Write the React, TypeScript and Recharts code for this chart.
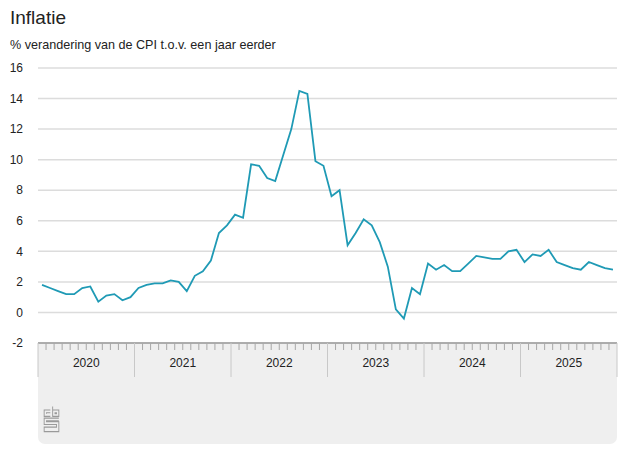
import { CartesianGrid, Line, LineChart, XAxis, YAxis } from "recharts";

// jaarlijkse CPI-mutatie per maand
const years = ["2020", "2021", "2022", "2023", "2024", "2025"];
const cpi2020 = [1.8, 1.6, 1.4, 1.2, 1.2, 1.6, 1.7, 0.7, 1.1, 1.2, 0.8, 1.0];
const cpi2021 = [1.6, 1.8, 1.9, 1.9, 2.1, 2.0, 1.4, 2.4, 2.7, 3.4, 5.2, 5.7];
const cpi2022 = [6.4, 6.2, 9.7, 9.6, 8.8, 8.6, 10.3, 12.0, 14.5, 14.3, 9.9, 9.6];
const cpi2023 = [7.6, 8.0, 4.4, 5.2, 6.1, 5.7, 4.6, 3.0, 0.2, -0.4, 1.6, 1.2];
const cpi2024 = [3.2, 2.8, 3.1, 2.7, 2.7, 3.2, 3.7, 3.6, 3.5, 3.5, 4.0, 4.1];
const cpi2025 = [3.3, 3.8, 3.7, 4.1, 3.3, 3.1, 2.9, 2.8, 3.3, 3.1, 2.9, 2.8];
const yTicks = [-2, 0, 2, 4, 6, 8, 10, 12, 14, 16];

const perYear = [cpi2020, cpi2021, cpi2022, cpi2023, cpi2024, cpi2025];
const data = perYear.flatMap((vals, yi) =>
  vals.map((v, m) => ({ t: yi * 12 + m + 0.5, v }))
);
const monthTicks = Array.from({ length: years.length * 12 + 1 }, (_, i) => i);

const FONT = '"Liberation Sans", Arial, sans-serif';

function MonthTick(props: any) {
  const { x, y, payload } = props;
  const i = payload.value as number;
  const isYear = i % 12 === 0;
  const isMid = i % 12 === 6;
  return (
    <g>
      {isYear ? (
        <line x1={x} x2={x} y1={y} y2={y + 34} stroke="#c8c8c8" strokeWidth={1} />
      ) : (
        <line x1={x} x2={x} y1={y} y2={y + 7} stroke="#a8a8a8" strokeWidth={1} />
      )}
      {isMid && (
        <text x={x} y={y + 24} textAnchor="middle" fontSize={12} fill="#222" fontFamily={FONT}>
          {years[Math.floor(i / 12)]}
        </text>
      )}
    </g>
  );
}

function CbsLogo() {
  return (
    <svg width={17} height={27} viewBox="0 0 22 30" preserveAspectRatio="none" style={{ position: "absolute", left: 5, top: 63 }}>
      <g fill="none" stroke="#9a9a9a" strokeWidth={1.2}>
        <path d="M9.5 4.5 H1.5 V11.5 H9.5 M9.5 7.5 H4.5 V8.5" />
        <path d="M12.5 0.5 V11.5 H20.5 V4.5 H12.5 M15.5 7.5 H17.5 V8.5 H15.5 Z" />
        <path d="M20.5 13.5 H1.5 V20.5 H17.5 V23.5 H1.5 V28.5 H20.5 V17.5 H4.5 V16.5 H20.5" />
      </g>
    </svg>
  );
}

export default function App() {
  return (
    <div
      style={{
        position: "absolute",
        left: 0,
        top: 0,
        width: 627,
        height: 470,
        background: "#fff",
        fontFamily: FONT,
        color: "#222",
      }}
    >
      <div style={{ position: "absolute", left: 10, top: 7, fontSize: 19 }}>Inflatie</div>
      <div style={{ position: "absolute", left: 10, top: 38, fontSize: 12.6 }}>
        % verandering van de CPI t.o.v. een jaar eerder
      </div>
      <div
        style={{
          position: "absolute",
          left: 38,
          top: 343,
          width: 579,
          height: 101,
          background: "#efefef",
          borderBottomLeftRadius: 7,
          borderBottomRightRadius: 7,
        }}
      >
        <CbsLogo />
      </div>
      <div style={{ position: "absolute", left: 0, top: 0 }}>
        <LineChart width={627} height={470} data={data} margin={{ top: 68, right: 10, left: 0, bottom: 0 }}>
          <CartesianGrid vertical={false} stroke="#dcdcdc" strokeWidth={1.5} />
          <XAxis
            dataKey="t"
            type="number"
            domain={[0, years.length * 12]}
            ticks={monthTicks}
            interval={0}
            height={127}
            tickSize={0}
            tickMargin={0}
            tickLine={false}
            axisLine={{ stroke: "#9a9a9a", strokeWidth: 1.5 }}
            tick={<MonthTick />}
          />
          <YAxis
            type="number"
            domain={[-2, 16]}
            ticks={yTicks}
            width={38}
            axisLine={false}
            tickLine={false}
            tickSize={0}
            tickMargin={15}
            tick={{ fontSize: 12, fill: "#222", fontFamily: FONT }}
          />
          <Line
            dataKey="v"
            type="linear"
            stroke="#1f9ab5"
            strokeWidth={1.8}
            dot={false}
            isAnimationActive={false}
          />
        </LineChart>
      </div>
    </div>
  );
}
